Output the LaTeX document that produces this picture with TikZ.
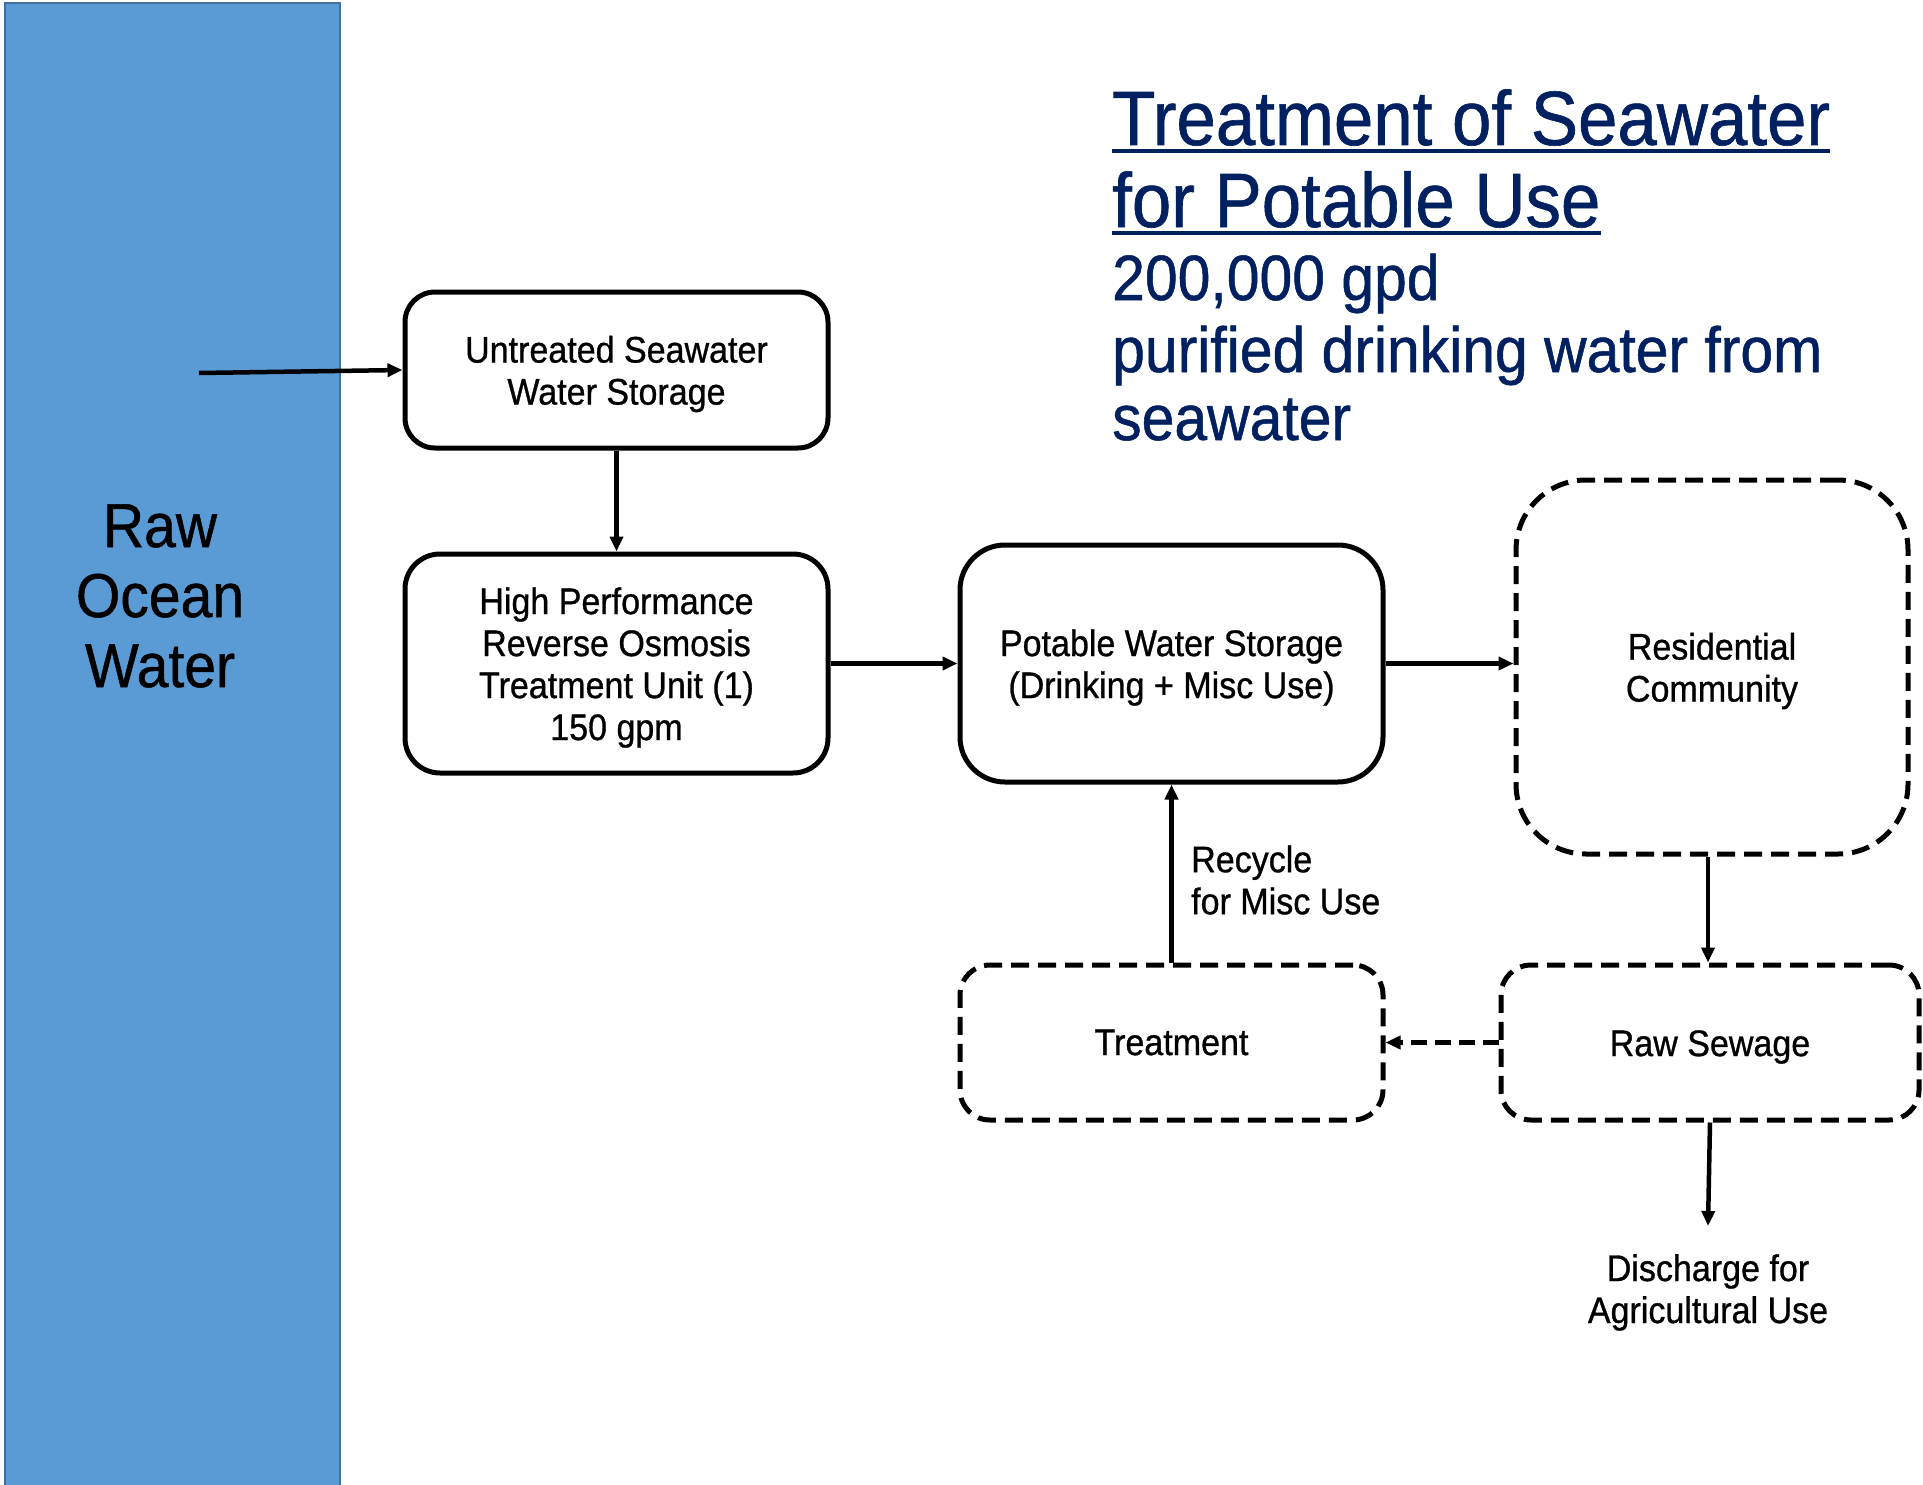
\documentclass[tikz,border=0pt]{standalone}
\usepackage{fontspec}
\setmainfont[FakeStretch=0.92,FakeBold=0.8]{Liberation Sans}
\usetikzlibrary{arrows.meta,calc}
\definecolor{oceanfill}{HTML}{5B9BD5}
\definecolor{oceanline}{HTML}{41719C}
\definecolor{navy}{HTML}{002060}
\begin{document}
\begin{tikzpicture}[x=1pt,y=-1pt,
  boxtext/.style={align=center,font=\fontsize{37}{42}\selectfont,inner sep=0pt},
  solidbox/.style={draw=black,line width=5pt,fill=white,inner sep=0pt},
  dashbox/.style={draw=black,line width=5pt,dash pattern=on 18pt off 9pt,inner sep=0pt},
  flow/.style={line width=4.5pt,-{Triangle[length=15pt,width=13pt]}},
  plainlabel/.style={font=\fontsize{37}{42}\selectfont,inner sep=0pt},
  titlefont/.style={text=navy,font=\fontsize{77}{82}\selectfont,inner sep=0pt,anchor=base west},
  subfont/.style={text=navy,font=\fontsize{64}{71}\selectfont,inner sep=0pt,anchor=base west}]
\useasboundingbox (0,0) rectangle (1923,1485);
\fill[white] (0,0) rectangle (1923,1485);
% ocean
\draw[fill=oceanfill,draw=oceanline,line width=2.5pt] (5,3) rectangle (340,1495);
\node[align=center,font=\fontsize{62}{70}\selectfont,inner sep=0pt] (ocean) at (160,596) {Raw\\Ocean\\Water};
\coordinate (intake) at (199,373);
% boxes
\node[solidbox,rounded corners=30pt,minimum width=423pt,minimum height=156pt,
  label={[boxtext,yshift=-4pt]center:{Untreated Seawater\\Water Storage}}] (untreated) at (616.5,370) {};
\node[solidbox,rounded corners=35pt,minimum width=423pt,minimum height=219pt,
  label={[boxtext,yshift=-4pt]center:{High Performance\\Reverse Osmosis\\Treatment Unit (1)\\150 gpm}}] (hpro) at (616.5,663.5) {};
\node[solidbox,rounded corners=45pt,minimum width=423pt,minimum height=237pt,
  label={[boxtext,yshift=-4pt]center:{Potable Water Storage\\(Drinking + Misc Use)}}] (potable) at (1171.5,663.5) {};
\node[dashbox,rounded corners=70pt,minimum width=392pt,minimum height=374pt,
  label={[boxtext,yshift=-4pt]center:{Residential\\Community}}] (resid) at (1712,667) {};
\node[dashbox,rounded corners=30pt,minimum width=423pt,minimum height=155pt,
  label={[boxtext]center:{Treatment}}] (treat) at (1171.5,1042.5) {};
\node[dashbox,rounded corners=30pt,minimum width=418pt,minimum height=155pt,
  label={[boxtext,yshift=-4.5pt]center:{Raw Sewage}}] (sewage) at (1710,1042.5) {};
\node[plainlabel,align=left,anchor=west] (recycle) at (1191,880) {Recycle\\for Misc Use};
\node[plainlabel,align=center,anchor=north] (discharge) at (1708,1254) {Discharge for\\Agricultural Use};
% title
\node[titlefont] (title1) at (1112,145) {Treatment of Seawater};
\node[titlefont] (title2) at (1112,227) {for Potable Use};
\draw[navy,line width=3.5pt] ($(title1.base west)+(0,6)$) -- ($(title1.base east)+(0,6)$);
\draw[navy,line width=3.5pt] ($(title2.base west)+(0,6)$) -- ($(title2.base east)+(0,6)$);
\node[subfont] (sub1) at (1112,300) {200,000 gpd};
\node[subfont] (sub2) at (1112,372) {purified drinking water from};
\node[subfont] (sub3) at (1112,440) {seawater};
% connectors
\draw[flow] (intake) -- (untreated.west);
\draw[flow] (untreated.south) -- (hpro.north);
\draw[flow] (hpro.east) -- (potable.west);
\draw[flow] (potable.east) -- (resid.west |- potable.east);
\draw[flow] (resid.south -| sewage.north) ++(-2,0) coordinate (rs) -- (sewage.north -| rs);
\draw[flow] (sewage.south) -- ($(discharge.north)+(0,-28)$);
\draw[flow,dash pattern=on 16pt off 8pt] (sewage.west) -- (treat.east);
\draw[flow] (treat.north) -- (potable.south);
\end{tikzpicture}
\end{document}
